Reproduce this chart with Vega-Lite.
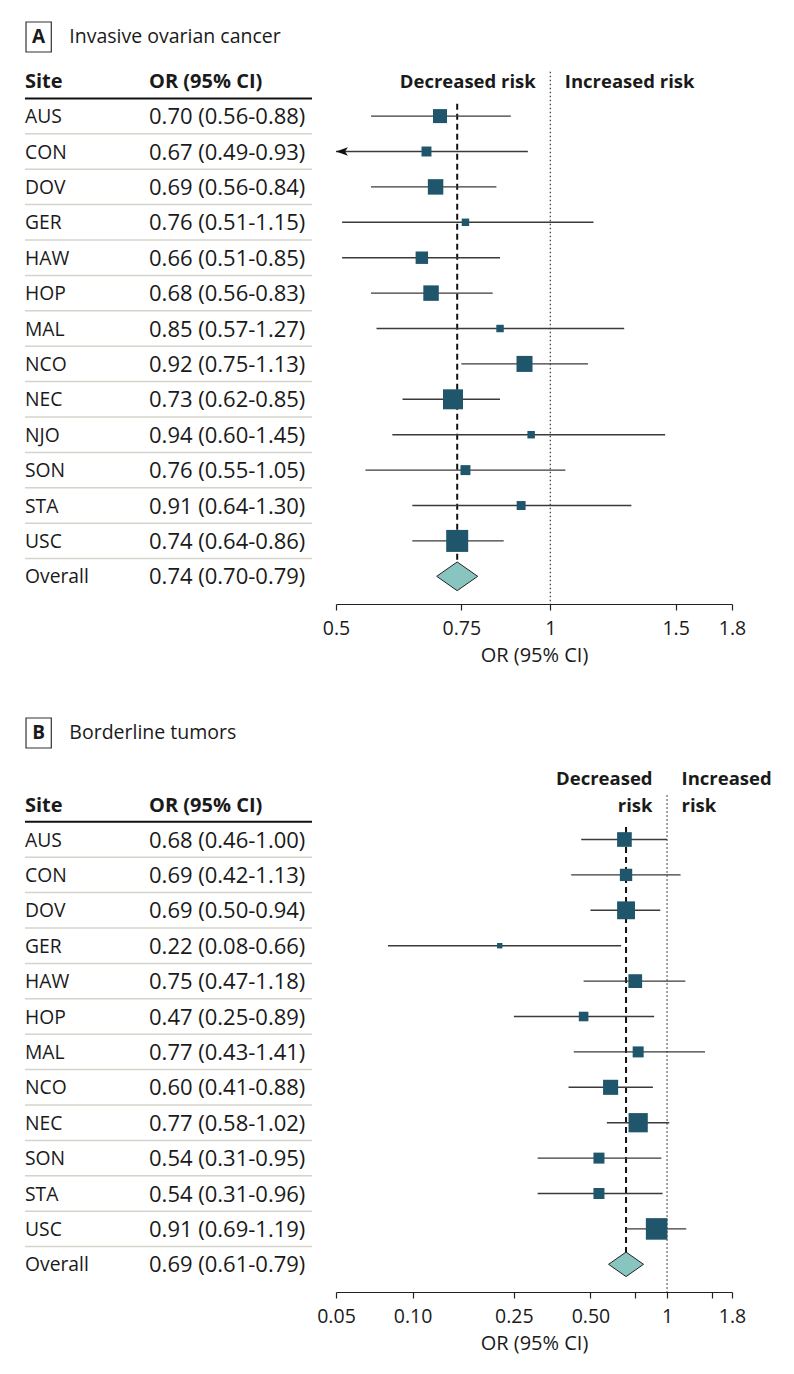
{
  "$schema": "https://vega.github.io/schema/vega-lite/v6.json",
  "background": "white",
  "padding": {"left": 23, "top": 0, "right": 10, "bottom": 10},
  "spacing": 0,
  "config": {
    "view": {"stroke": null},
    "font": "Open Sans",
    "text": {"font": "Open Sans", "color": "#1a1a1a"},
    "axisX": {"grid": false, "domainColor": "#222222", "domainWidth": 1.2, "tickColor": "#222222", "tickWidth": 1.2, "tickSize": 6, "labelFont": "Open Sans", "labelFontSize": 19.5, "labelColor": "#1a1a1a", "labelPadding": 9, "labelFlush": false, "labelOverlap": false, "titleFont": "Open Sans", "titleFontSize": 20, "titleFontWeight": "normal", "titleColor": "#1a1a1a", "titlePadding": 8}
  },
  "datasets": {
    "a": [
      {"site": "AUS", "ci": "0.70 (0.56-0.88)", "or": 0.70, "lo": 0.56, "hi": 0.88, "w": 8.1},
      {"site": "CON", "ci": "0.67 (0.49-0.93)", "or": 0.67, "lo": 0.49, "hi": 0.93, "w": 4.1},
      {"site": "DOV", "ci": "0.69 (0.56-0.84)", "or": 0.69, "lo": 0.56, "hi": 0.84, "w": 9.9},
      {"site": "GER", "ci": "0.76 (0.51-1.15)", "or": 0.76, "lo": 0.51, "hi": 1.15, "w": 2.3},
      {"site": "HAW", "ci": "0.66 (0.51-0.85)", "or": 0.66, "lo": 0.51, "hi": 0.85, "w": 6.4},
      {"site": "HOP", "ci": "0.68 (0.56-0.83)", "or": 0.68, "lo": 0.56, "hi": 0.83, "w": 9.9},
      {"site": "MAL", "ci": "0.85 (0.57-1.27)", "or": 0.85, "lo": 0.57, "hi": 1.27, "w": 2.3},
      {"site": "NCO", "ci": "0.92 (0.75-1.13)", "or": 0.92, "lo": 0.75, "hi": 1.13, "w": 10.6},
      {"site": "NEC", "ci": "0.73 (0.62-0.85)", "or": 0.73, "lo": 0.62, "hi": 0.85, "w": 16.5},
      {"site": "NJO", "ci": "0.94 (0.60-1.45)", "or": 0.94, "lo": 0.60, "hi": 1.45, "w": 2.3},
      {"site": "SON", "ci": "0.76 (0.55-1.05)", "or": 0.76, "lo": 0.55, "hi": 1.05, "w": 4.1},
      {"site": "STA", "ci": "0.91 (0.64-1.30)", "or": 0.91, "lo": 0.64, "hi": 1.30, "w": 3.3},
      {"site": "USC", "ci": "0.74 (0.64-0.86)", "or": 0.74, "lo": 0.64, "hi": 0.86, "w": 20.0},
      {"site": "Overall", "ci": "0.74 (0.70-0.79)", "or": 0.74, "lo": 0.70, "hi": 0.79, "w": null}
    ],
    "b": [
      {"site": "AUS", "ci": "0.68 (0.46-1.00)", "or": 0.68, "lo": 0.46, "hi": 1.00, "w": 8.9},
      {"site": "CON", "ci": "0.69 (0.42-1.13)", "or": 0.69, "lo": 0.42, "hi": 1.13, "w": 6.3},
      {"site": "DOV", "ci": "0.69 (0.50-0.94)", "or": 0.69, "lo": 0.50, "hi": 0.94, "w": 13.2},
      {"site": "GER", "ci": "0.22 (0.08-0.66)", "or": 0.22, "lo": 0.08, "hi": 0.66, "w": 1.2},
      {"site": "HAW", "ci": "0.75 (0.47-1.18)", "or": 0.75, "lo": 0.47, "hi": 1.18, "w": 7.8},
      {"site": "HOP", "ci": "0.47 (0.25-0.89)", "or": 0.47, "lo": 0.25, "hi": 0.89, "w": 3.8},
      {"site": "MAL", "ci": "0.77 (0.43-1.41)", "or": 0.77, "lo": 0.43, "hi": 1.41, "w": 5.0},
      {"site": "NCO", "ci": "0.60 (0.41-0.88)", "or": 0.60, "lo": 0.41, "hi": 0.88, "w": 9.4},
      {"site": "NEC", "ci": "0.77 (0.58-1.02)", "or": 0.77, "lo": 0.58, "hi": 1.02, "w": 15.3},
      {"site": "SON", "ci": "0.54 (0.31-0.95)", "or": 0.54, "lo": 0.31, "hi": 0.95, "w": 5.0},
      {"site": "STA", "ci": "0.54 (0.31-0.96)", "or": 0.54, "lo": 0.31, "hi": 0.96, "w": 5.0},
      {"site": "USC", "ci": "0.91 (0.69-1.19)", "or": 0.91, "lo": 0.69, "hi": 1.19, "w": 19.2},
      {"site": "Overall", "ci": "0.69 (0.61-0.79)", "or": 0.69, "lo": 0.61, "hi": 0.79, "w": null}
    ]
  },
  "vconcat": [
    {
      "width": 58, "height": 63,
      "data": {"values": [{}]},
      "layer": [
        {"mark": {"type": "point", "shape": "M-0.843,-1L0.843,-1L0.843,1L-0.843,1Z", "size": 900, "filled": false, "stroke": "#333333", "strokeWidth": 1.2, "opacity": 1},
         "encoding": {"x": {"datum": "box", "type": "nominal", "scale": {"type": "point", "domain": ["box", "text"], "padding": 0.445}, "axis": null},
                      "y": {"datum": "t", "type": "nominal", "scale": {"type": "point", "domain": ["t"], "align": 0.587}, "axis": null}}},
        {"mark": {"type": "text", "text": "A", "fontSize": 19, "fontWeight": "bold", "baseline": "middle"},
         "encoding": {"x": {"datum": "box", "type": "nominal", "scale": {"type": "point", "domain": ["box", "text"], "padding": 0.445}, "axis": null},
                      "y": {"datum": "t", "type": "nominal", "scale": {"type": "point", "domain": ["t"], "align": 0.587}, "axis": null}}},
        {"mark": {"type": "text", "text": "Invasive ovarian cancer", "fontSize": 19.5, "align": "left", "baseline": "middle"},
         "encoding": {"x": {"datum": "text", "type": "nominal", "scale": {"type": "point", "domain": ["box", "text"], "padding": 0.445}, "axis": null},
                      "y": {"datum": "t", "type": "nominal", "scale": {"type": "point", "domain": ["t"], "align": 0.587}, "axis": null}}}
      ]
    },
    {
      "hconcat": [
        {
          "width": 287, "height": 541,
          "data": {"name": "a"},
          "layer": [
            {"transform": [{"filter": "datum.site !== 'Overall'"}],
             "mark": {"type": "rule", "color": "#d4d4ca", "strokeWidth": 1.5},
             "encoding": {"y": {"field": "site", "type": "nominal", "bandPosition": 1, "scale": {"type": "band", "domain": ["hdr","AUS","CON","DOV","GER","HAW","HOP","MAL","NCO","NEC","NJO","SON","STA","USC","Overall"], "paddingInner": 0, "paddingOuter": 0.141, "align": 0, "round": false}, "axis": null}}},
            {"data": {"values": [{}]},
             "mark": {"type": "rule", "color": "#111111", "strokeWidth": 2},
             "encoding": {"y": {"datum": "hdr", "type": "nominal", "bandPosition": 1, "scale": {"type": "band", "domain": ["hdr","AUS","CON","DOV","GER","HAW","HOP","MAL","NCO","NEC","NJO","SON","STA","USC","Overall"], "paddingInner": 0, "paddingOuter": 0.141, "align": 0, "round": false}, "axis": null}}},
            {"data": {"values": [{"col": "Site", "label": "Site"}, {"col": "OR", "label": "OR (95% CI)"}]},
             "mark": {"type": "text", "align": "left", "baseline": "middle", "fontSize": 20, "fontWeight": "bold"},
             "encoding": {"x": {"field": "col", "type": "nominal", "scale": {"type": "point", "domain": ["Site", "OR"], "padding": 0.657, "align": 0}, "axis": null},
                          "y": {"datum": "hdr", "type": "nominal", "bandPosition": 0.55, "scale": {"type": "band", "domain": ["hdr","AUS","CON","DOV","GER","HAW","HOP","MAL","NCO","NEC","NJO","SON","STA","USC","Overall"], "paddingInner": 0, "paddingOuter": 0.141, "align": 0, "round": false}, "axis": null},
                          "text": {"field": "label"}}},
            {"mark": {"type": "text", "align": "left", "baseline": "middle", "fontSize": 19.3},
             "encoding": {"x": {"datum": "Site", "type": "nominal", "scale": {"type": "point", "domain": ["Site", "OR"], "padding": 0.657, "align": 0}, "axis": null},
                          "y": {"field": "site", "type": "nominal", "bandPosition": 0.53, "scale": {"type": "band", "domain": ["hdr","AUS","CON","DOV","GER","HAW","HOP","MAL","NCO","NEC","NJO","SON","STA","USC","Overall"], "paddingInner": 0, "paddingOuter": 0.141, "align": 0, "round": false}, "axis": null},
                          "text": {"field": "site"}}},
            {"mark": {"type": "text", "align": "left", "baseline": "middle", "fontSize": 22},
             "encoding": {"x": {"datum": "OR", "type": "nominal", "scale": {"type": "point", "domain": ["Site", "OR"], "padding": 0.657, "align": 0}, "axis": null},
                          "y": {"field": "site", "type": "nominal", "bandPosition": 0.53, "scale": {"type": "band", "domain": ["hdr","AUS","CON","DOV","GER","HAW","HOP","MAL","NCO","NEC","NJO","SON","STA","USC","Overall"], "paddingInner": 0, "paddingOuter": 0.141, "align": 0, "round": false}, "axis": null},
                          "text": {"field": "ci"}}}
          ]
        },
        {
          "width": 396, "height": 541,
          "data": {"name": "a"},
          "layer": [
            {"data": {"values": [{}]},
             "mark": {"type": "rule", "color": "#333333", "strokeWidth": 1.2, "strokeDash": [1.5, 2.5]},
             "encoding": {"x": {"datum": 1, "type": "quantitative", "scale": {"type": "log", "domain": [0.5, 1.8], "nice": false}, "title": "OR (95% CI)",
                                "axis": {"values": [0.5, 0.75, 1, 1.5, 1.8], "labelExpr": "format(datum.value, '')", "title": "OR (95% CI)"}},
                          "y": {"datum": "hdr", "type": "nominal", "bandPosition": 0.25, "scale": {"type": "band", "domain": ["hdr","AUS","CON","DOV","GER","HAW","HOP","MAL","NCO","NEC","NJO","SON","STA","USC","Overall"], "paddingInner": 0, "paddingOuter": 0.141, "align": 0, "round": false}, "axis": null},
                          "y2": {"value": "height"}}},
            {"transform": [{"filter": "datum.site === 'Overall'"}],
             "mark": {"type": "rule", "color": "#111111", "strokeWidth": 2, "strokeDash": [6, 4]},
             "encoding": {"x": {"field": "or", "type": "quantitative", "scale": {"type": "log", "domain": [0.5, 1.8], "nice": false}, "title": "OR (95% CI)"},
                          "y": {"datum": "AUS", "type": "nominal", "bandPosition": 0.15, "scale": {"type": "band", "domain": ["hdr","AUS","CON","DOV","GER","HAW","HOP","MAL","NCO","NEC","NJO","SON","STA","USC","Overall"], "paddingInner": 0, "paddingOuter": 0.141, "align": 0, "round": false}, "axis": null},
                          "y2": {"datum": "Overall", "bandPosition": 0.5}}},
            {"transform": [{"filter": "datum.site !== 'Overall'"}],
             "mark": {"type": "rule", "color": "#3a3a3a", "strokeWidth": 1.4, "clip": true},
             "encoding": {"x": {"field": "lo", "type": "quantitative", "scale": {"type": "log", "domain": [0.5, 1.8], "nice": false}, "title": "OR (95% CI)"},
                          "x2": {"field": "hi"},
                          "y": {"field": "site", "type": "nominal", "scale": {"type": "band", "domain": ["hdr","AUS","CON","DOV","GER","HAW","HOP","MAL","NCO","NEC","NJO","SON","STA","USC","Overall"], "paddingInner": 0, "paddingOuter": 0.141, "align": 0, "round": false}, "axis": null}}},
            {"transform": [{"filter": "datum.lo < 0.5"}],
             "mark": {"type": "point", "shape": "M0,0L2,-0.7L1.5,0L2,0.7Z", "size": 144, "filled": true, "color": "#111111", "opacity": 1},
             "encoding": {"x": {"datum": 0.5, "type": "quantitative", "scale": {"type": "log", "domain": [0.5, 1.8], "nice": false}, "title": "OR (95% CI)"},
                          "y": {"field": "site", "type": "nominal", "scale": {"type": "band", "domain": ["hdr","AUS","CON","DOV","GER","HAW","HOP","MAL","NCO","NEC","NJO","SON","STA","USC","Overall"], "paddingInner": 0, "paddingOuter": 0.141, "align": 0, "round": false}, "axis": null}}},
            {"transform": [{"filter": "datum.site !== 'Overall'"}],
             "mark": {"type": "point", "shape": "square", "filled": true, "color": "#1f566b", "opacity": 1},
             "encoding": {"x": {"field": "or", "type": "quantitative", "scale": {"type": "log", "domain": [0.5, 1.8], "nice": false}, "title": "OR (95% CI)"},
                          "y": {"field": "site", "type": "nominal", "scale": {"type": "band", "domain": ["hdr","AUS","CON","DOV","GER","HAW","HOP","MAL","NCO","NEC","NJO","SON","STA","USC","Overall"], "paddingInner": 0, "paddingOuter": 0.141, "align": 0, "round": false}, "axis": null},
                          "size": {"field": "w", "type": "quantitative", "scale": {"domain": [0, 20], "range": [0, 484], "zero": true}, "legend": null}}},
            {"transform": [{"filter": "datum.site === 'Overall'"}],
             "mark": {"type": "point", "shape": "M-1,0L0,-0.7L1,0L0,0.7Z", "size": 1681, "filled": true, "fill": "#88c5c1", "stroke": "#222222", "strokeWidth": 1, "opacity": 1},
             "encoding": {"x": {"field": "or", "type": "quantitative", "scale": {"type": "log", "domain": [0.5, 1.8], "nice": false}, "title": "OR (95% CI)"},
                          "y": {"field": "site", "type": "nominal", "scale": {"type": "band", "domain": ["hdr","AUS","CON","DOV","GER","HAW","HOP","MAL","NCO","NEC","NJO","SON","STA","USC","Overall"], "paddingInner": 0, "paddingOuter": 0.141, "align": 0, "round": false}, "axis": null}}},
            {"data": {"values": [{}]},
             "mark": {"type": "text", "text": "Decreased risk", "align": "right", "dx": -14.5, "baseline": "middle", "fontSize": 18.5, "fontWeight": "bold"},
             "encoding": {"x": {"datum": 1, "type": "quantitative", "scale": {"type": "log", "domain": [0.5, 1.8], "nice": false}, "title": "OR (95% CI)"},
                          "y": {"datum": "hdr", "type": "nominal", "bandPosition": 0.55, "scale": {"type": "band", "domain": ["hdr","AUS","CON","DOV","GER","HAW","HOP","MAL","NCO","NEC","NJO","SON","STA","USC","Overall"], "paddingInner": 0, "paddingOuter": 0.141, "align": 0, "round": false}, "axis": null}}},
            {"data": {"values": [{}]},
             "mark": {"type": "text", "text": "Increased risk", "align": "left", "dx": 14.5, "baseline": "middle", "fontSize": 18.5, "fontWeight": "bold"},
             "encoding": {"x": {"datum": 1, "type": "quantitative", "scale": {"type": "log", "domain": [0.5, 1.8], "nice": false}, "title": "OR (95% CI)"},
                          "y": {"datum": "hdr", "type": "nominal", "bandPosition": 0.55, "scale": {"type": "band", "domain": ["hdr","AUS","CON","DOV","GER","HAW","HOP","MAL","NCO","NEC","NJO","SON","STA","USC","Overall"], "paddingInner": 0, "paddingOuter": 0.141, "align": 0, "round": false}, "axis": null}}}
          ]
        }
      ],
      "spacing": 24,
      "bounds": "flush"
    },
    {
      "width": 58, "height": 84.5,
      "data": {"values": [{}]},
      "layer": [
        {"mark": {"type": "point", "shape": "M-0.843,-1L0.843,-1L0.843,1L-0.843,1Z", "size": 900, "filled": false, "stroke": "#333333", "strokeWidth": 1.2, "opacity": 1},
         "encoding": {"x": {"datum": "box", "type": "nominal", "scale": {"type": "point", "domain": ["box", "text"], "padding": 0.445}, "axis": null},
                      "y": {"datum": "t", "type": "nominal", "scale": {"type": "point", "domain": ["t"], "align": 0.793}, "axis": null}}},
        {"mark": {"type": "text", "text": "B", "fontSize": 19, "fontWeight": "bold", "baseline": "middle"},
         "encoding": {"x": {"datum": "box", "type": "nominal", "scale": {"type": "point", "domain": ["box", "text"], "padding": 0.445}, "axis": null},
                      "y": {"datum": "t", "type": "nominal", "scale": {"type": "point", "domain": ["t"], "align": 0.793}, "axis": null}}},
        {"mark": {"type": "text", "text": "Borderline tumors", "fontSize": 19.5, "align": "left", "baseline": "middle"},
         "encoding": {"x": {"datum": "text", "type": "nominal", "scale": {"type": "point", "domain": ["box", "text"], "padding": 0.445}, "axis": null},
                      "y": {"datum": "t", "type": "nominal", "scale": {"type": "point", "domain": ["t"], "align": 0.793}, "axis": null}}}
      ]
    },
    {
      "hconcat": [
        {
          "width": 287, "height": 541,
          "data": {"name": "b"},
          "layer": [
            {"transform": [{"filter": "datum.site !== 'Overall'"}],
             "mark": {"type": "rule", "color": "#d4d4ca", "strokeWidth": 1.5},
             "encoding": {"y": {"field": "site", "type": "nominal", "bandPosition": 1, "scale": {"type": "band", "domain": ["pad","hdr","AUS","CON","DOV","GER","HAW","HOP","MAL","NCO","NEC","SON","STA","USC","Overall"], "paddingInner": 0, "paddingOuter": 0.141, "align": 0, "round": false}, "axis": null}}},
            {"data": {"values": [{}]},
             "mark": {"type": "rule", "color": "#111111", "strokeWidth": 2},
             "encoding": {"y": {"datum": "hdr", "type": "nominal", "bandPosition": 1, "scale": {"type": "band", "domain": ["pad","hdr","AUS","CON","DOV","GER","HAW","HOP","MAL","NCO","NEC","SON","STA","USC","Overall"], "paddingInner": 0, "paddingOuter": 0.141, "align": 0, "round": false}, "axis": null}}},
            {"data": {"values": [{"col": "Site", "label": "Site"}, {"col": "OR", "label": "OR (95% CI)"}]},
             "mark": {"type": "text", "align": "left", "baseline": "middle", "fontSize": 20, "fontWeight": "bold"},
             "encoding": {"x": {"field": "col", "type": "nominal", "scale": {"type": "point", "domain": ["Site", "OR"], "padding": 0.657, "align": 0}, "axis": null},
                          "y": {"datum": "hdr", "type": "nominal", "bandPosition": 0.55, "scale": {"type": "band", "domain": ["pad","hdr","AUS","CON","DOV","GER","HAW","HOP","MAL","NCO","NEC","SON","STA","USC","Overall"], "paddingInner": 0, "paddingOuter": 0.141, "align": 0, "round": false}, "axis": null},
                          "text": {"field": "label"}}},
            {"mark": {"type": "text", "align": "left", "baseline": "middle", "fontSize": 19.3},
             "encoding": {"x": {"datum": "Site", "type": "nominal", "scale": {"type": "point", "domain": ["Site", "OR"], "padding": 0.657, "align": 0}, "axis": null},
                          "y": {"field": "site", "type": "nominal", "bandPosition": 0.53, "scale": {"type": "band", "domain": ["pad","hdr","AUS","CON","DOV","GER","HAW","HOP","MAL","NCO","NEC","SON","STA","USC","Overall"], "paddingInner": 0, "paddingOuter": 0.141, "align": 0, "round": false}, "axis": null},
                          "text": {"field": "site"}}},
            {"mark": {"type": "text", "align": "left", "baseline": "middle", "fontSize": 22},
             "encoding": {"x": {"datum": "OR", "type": "nominal", "scale": {"type": "point", "domain": ["Site", "OR"], "padding": 0.657, "align": 0}, "axis": null},
                          "y": {"field": "site", "type": "nominal", "bandPosition": 0.53, "scale": {"type": "band", "domain": ["pad","hdr","AUS","CON","DOV","GER","HAW","HOP","MAL","NCO","NEC","SON","STA","USC","Overall"], "paddingInner": 0, "paddingOuter": 0.141, "align": 0, "round": false}, "axis": null},
                          "text": {"field": "ci"}}}
          ]
        },
        {
          "width": 396, "height": 541,
          "data": {"name": "b"},
          "layer": [
            {"data": {"values": [{}]},
             "mark": {"type": "rule", "color": "#333333", "strokeWidth": 1.2, "strokeDash": [1.5, 2.5]},
             "encoding": {"x": {"datum": 1, "type": "quantitative", "scale": {"type": "log", "domain": [0.05, 1.8], "nice": false}, "title": "OR (95% CI)",
                                "axis": {"values": [0.05, 0.1, 0.25, 0.5, 0.75, 1, 1.5, 1.8], "labelExpr": "datum.value == 0.75 || datum.value == 1.5 ? '' : (datum.value >= 1 ? format(datum.value, '') : format(datum.value, '.2f'))", "title": "OR (95% CI)"}},
                          "y": {"datum": "hdr", "type": "nominal", "bandPosition": 0.25, "scale": {"type": "band", "domain": ["pad","hdr","AUS","CON","DOV","GER","HAW","HOP","MAL","NCO","NEC","SON","STA","USC","Overall"], "paddingInner": 0, "paddingOuter": 0.141, "align": 0, "round": false}, "axis": null},
                          "y2": {"value": "height"}}},
            {"transform": [{"filter": "datum.site === 'Overall'"}],
             "mark": {"type": "rule", "color": "#111111", "strokeWidth": 2, "strokeDash": [6, 4]},
             "encoding": {"x": {"field": "or", "type": "quantitative", "scale": {"type": "log", "domain": [0.05, 1.8], "nice": false}, "title": "OR (95% CI)"},
                          "y": {"datum": "AUS", "type": "nominal", "bandPosition": 0.15, "scale": {"type": "band", "domain": ["pad","hdr","AUS","CON","DOV","GER","HAW","HOP","MAL","NCO","NEC","SON","STA","USC","Overall"], "paddingInner": 0, "paddingOuter": 0.141, "align": 0, "round": false}, "axis": null},
                          "y2": {"datum": "Overall", "bandPosition": 0.5}}},
            {"transform": [{"filter": "datum.site !== 'Overall'"}],
             "mark": {"type": "rule", "color": "#3a3a3a", "strokeWidth": 1.4, "clip": true},
             "encoding": {"x": {"field": "lo", "type": "quantitative", "scale": {"type": "log", "domain": [0.05, 1.8], "nice": false}, "title": "OR (95% CI)"},
                          "x2": {"field": "hi"},
                          "y": {"field": "site", "type": "nominal", "scale": {"type": "band", "domain": ["pad","hdr","AUS","CON","DOV","GER","HAW","HOP","MAL","NCO","NEC","SON","STA","USC","Overall"], "paddingInner": 0, "paddingOuter": 0.141, "align": 0, "round": false}, "axis": null}}},
            {"transform": [{"filter": "datum.site !== 'Overall'"}],
             "mark": {"type": "point", "shape": "square", "filled": true, "color": "#1f566b", "opacity": 1},
             "encoding": {"x": {"field": "or", "type": "quantitative", "scale": {"type": "log", "domain": [0.05, 1.8], "nice": false}, "title": "OR (95% CI)"},
                          "y": {"field": "site", "type": "nominal", "scale": {"type": "band", "domain": ["pad","hdr","AUS","CON","DOV","GER","HAW","HOP","MAL","NCO","NEC","SON","STA","USC","Overall"], "paddingInner": 0, "paddingOuter": 0.141, "align": 0, "round": false}, "axis": null},
                          "size": {"field": "w", "type": "quantitative", "scale": {"domain": [0, 19.2], "range": [0, 246], "zero": true}, "legend": null}}},
            {"transform": [{"filter": "datum.site === 'Overall'"}],
             "mark": {"type": "point", "shape": "M-1,0L0,-0.7L1,0L0,0.7Z", "size": 1225, "filled": true, "fill": "#88c5c1", "stroke": "#222222", "strokeWidth": 1, "opacity": 1},
             "encoding": {"x": {"field": "or", "type": "quantitative", "scale": {"type": "log", "domain": [0.05, 1.8], "nice": false}, "title": "OR (95% CI)"},
                          "y": {"field": "site", "type": "nominal", "scale": {"type": "band", "domain": ["pad","hdr","AUS","CON","DOV","GER","HAW","HOP","MAL","NCO","NEC","SON","STA","USC","Overall"], "paddingInner": 0, "paddingOuter": 0.141, "align": 0, "round": false}, "axis": null}}},
            {"data": {"values": [{}]},
             "mark": {"type": "text", "text": "Decreased", "align": "right", "dx": -14.5, "baseline": "middle", "fontSize": 18.5, "fontWeight": "bold"},
             "encoding": {"x": {"datum": 1, "type": "quantitative", "scale": {"type": "log", "domain": [0.05, 1.8], "nice": false}, "title": "OR (95% CI)"},
                          "y": {"datum": "pad", "type": "nominal", "bandPosition": 0.78, "scale": {"type": "band", "domain": ["pad","hdr","AUS","CON","DOV","GER","HAW","HOP","MAL","NCO","NEC","SON","STA","USC","Overall"], "paddingInner": 0, "paddingOuter": 0.141, "align": 0, "round": false}, "axis": null}}},
            {"data": {"values": [{}]},
             "mark": {"type": "text", "text": "risk", "align": "right", "dx": -14.5, "baseline": "middle", "fontSize": 18.5, "fontWeight": "bold"},
             "encoding": {"x": {"datum": 1, "type": "quantitative", "scale": {"type": "log", "domain": [0.05, 1.8], "nice": false}, "title": "OR (95% CI)"},
                          "y": {"datum": "hdr", "type": "nominal", "bandPosition": 0.55, "scale": {"type": "band", "domain": ["pad","hdr","AUS","CON","DOV","GER","HAW","HOP","MAL","NCO","NEC","SON","STA","USC","Overall"], "paddingInner": 0, "paddingOuter": 0.141, "align": 0, "round": false}, "axis": null}}},
            {"data": {"values": [{}]},
             "mark": {"type": "text", "text": "Increased", "align": "left", "dx": 14.5, "baseline": "middle", "fontSize": 18.5, "fontWeight": "bold"},
             "encoding": {"x": {"datum": 1, "type": "quantitative", "scale": {"type": "log", "domain": [0.05, 1.8], "nice": false}, "title": "OR (95% CI)"},
                          "y": {"datum": "pad", "type": "nominal", "bandPosition": 0.78, "scale": {"type": "band", "domain": ["pad","hdr","AUS","CON","DOV","GER","HAW","HOP","MAL","NCO","NEC","SON","STA","USC","Overall"], "paddingInner": 0, "paddingOuter": 0.141, "align": 0, "round": false}, "axis": null}}},
            {"data": {"values": [{}]},
             "mark": {"type": "text", "text": "risk", "align": "left", "dx": 14.5, "baseline": "middle", "fontSize": 18.5, "fontWeight": "bold"},
             "encoding": {"x": {"datum": 1, "type": "quantitative", "scale": {"type": "log", "domain": [0.05, 1.8], "nice": false}, "title": "OR (95% CI)"},
                          "y": {"datum": "hdr", "type": "nominal", "bandPosition": 0.55, "scale": {"type": "band", "domain": ["pad","hdr","AUS","CON","DOV","GER","HAW","HOP","MAL","NCO","NEC","SON","STA","USC","Overall"], "paddingInner": 0, "paddingOuter": 0.141, "align": 0, "round": false}, "axis": null}}}
          ]
        }
      ],
      "spacing": 24,
      "bounds": "flush"
    }
  ]
}
